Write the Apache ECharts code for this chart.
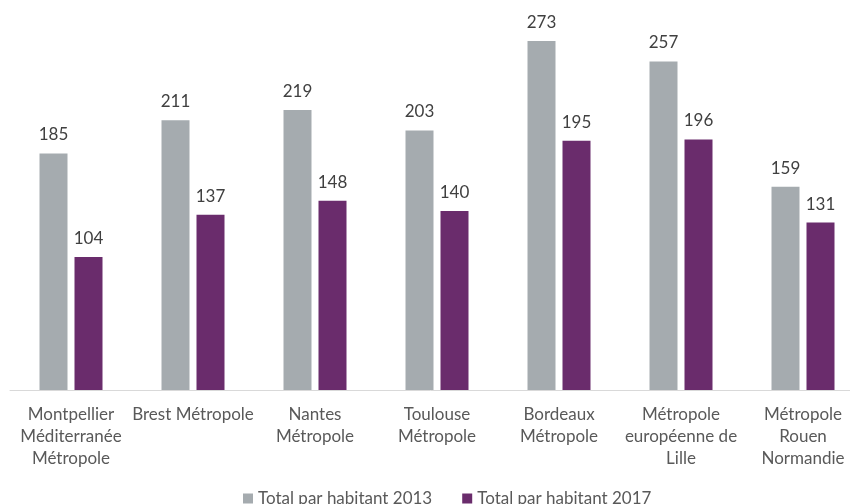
<!DOCTYPE html>
<html>
<head>
<meta charset="utf-8">
<script src="https://cdn.jsdelivr.net/npm/echarts@6/dist/echarts.min.js"></script>
<style>
  html, body { margin: 0; padding: 0; background: #fff; }
  #chart { width: 850px; height: 504px; }
</style>
</head>
<body>
<div id="chart"></div>
<script>
// données
const categories = [
  "Montpellier\nMéditerranée\nMétropole",
  "Brest Métropole",
  "Nantes\nMétropole",
  "Toulouse\nMétropole",
  "Bordeaux\nMétropole",
  "Métropole\neuropéenne de\nLille",
  "Métropole\nRouen\nNormandie"
];
const total2013 = [185, 211, 219, 203, 273, 257, 159];
const total2017 = [104, 137, 148, 140, 195, 196, 131];
const seriesNames = ["Total par habitant 2013", "Total par habitant 2017"];

const font = "Lato, 'Open Sans', sans-serif";
const chart = echarts.init(document.getElementById("chart"));

const barLabel = {
  show: true,
  position: "top",
  distance: 10,
  color: "#404040",
  fontSize: 17,
  fontFamily: font
};

chart.setOption({
  animation: false,
  legend: {
    top: 485,
    left: 238,
    itemWidth: 10,
    itemHeight: 10,
    itemGap: 30,
    icon: "rect",
    textStyle: { color: "#595959", fontSize: 17, fontFamily: font }
  },
  grid: { left: 10, width: 854, top: 6.5, bottom: 114, outerBoundsMode: "none", containLabel: false },
  xAxis: {
    type: "category",
    data: categories,
    axisLine: { lineStyle: { color: "#d9d9d9", width: 1 } },
    axisTick: { show: false },
    axisLabel: {
      interval: 0,
      margin: 14,
      color: "#595959",
      fontSize: 17,
      lineHeight: 22,
      fontFamily: font
    }
  },
  yAxis: {
    type: "value",
    min: 0,
    max: 300,
    show: false,
    splitLine: { show: false }
  },
  series: [
    {
      name: seriesNames[0],
      type: "bar",
      data: total2013,
      barWidth: 28,
      barGap: "25%",
      itemStyle: { color: "#a5abaf" },
      label: barLabel
    },
    {
      name: seriesNames[1],
      type: "bar",
      data: total2017,
      barWidth: 28,
      itemStyle: { color: "#6a2c6c" },
      label: barLabel
    }
  ]
});
</script>
</body>
</html>
